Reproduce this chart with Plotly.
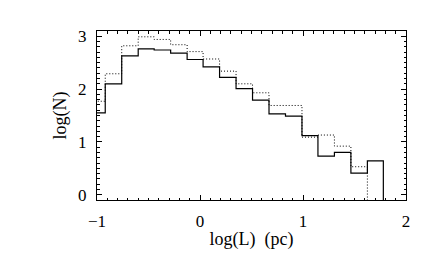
import plotly.graph_objects as go

# Bin edges in log(L) (pc)
log_L_edges = [-1.08, -0.92, -0.76, -0.60, -0.445, -0.285, -0.125, 0.03, 0.19,
               0.35, 0.51, 0.67, 0.83, 0.99, 1.145, 1.305, 1.465, 1.625, 1.78]

# log(N) per bin, solid histogram (18 bins)
logN_solid = [1.55, 2.10, 2.63, 2.76, 2.74, 2.68, 2.56, 2.42, 2.22, 2.01,
              1.79, 1.53, 1.49, 1.12, 0.73, 0.80, 0.41, 0.64]
# log(N) per bin, dotted histogram (17 bins, empty afterwards)
logN_dotted = [1.77, 2.29, 2.82, 2.99, 2.94, 2.84, 2.71, 2.57, 2.34, 2.10,
               1.93, 1.69, 1.69, 1.09, 1.13, 0.92, 0.53]
EMPTY = -1.0  # log of an empty bin: drawn below the axis floor

x_ticks = [-1, 0, 1, 2]
x_tick_labels = ["\u22121", "0", "1", "2"]
y_ticks = [0, 1, 2, 3]
y_tick_labels = ["0", "1", "2", "3"]


def step_xy(edges, vals):
    n = len(vals)
    xs = list(edges[:n + 1])
    ys = list(vals) + [EMPTY]
    return xs, ys


fig = go.Figure()
xs, ys = step_xy(log_L_edges, logN_dotted)
fig.add_trace(go.Scatter(x=xs, y=ys, mode="lines", line_shape="hv",
                         line=dict(color="black", width=1, dash="1px,2px"),
                         showlegend=False, hoverinfo="skip"))
xs, ys = step_xy(log_L_edges, logN_solid)
fig.add_trace(go.Scatter(x=xs, y=ys, mode="lines", line_shape="hv",
                         line=dict(color="black", width=1.2),
                         showlegend=False, hoverinfo="skip"))

font = dict(family="Liberation Serif", size=17, color="black")
title_font = dict(family="Liberation Serif", size=18, color="black")
fig.update_layout(
    width=436, height=262,
    margin=dict(l=89, r=38, t=23, b=70, autoexpand=False),
    paper_bgcolor="white", plot_bgcolor="white",
    font=font,
)
fig.update_xaxes(
    range=[-1, 2], tickvals=x_ticks, ticktext=x_tick_labels,
    showgrid=False, zeroline=False, showline=True, linecolor="black",
    linewidth=1, mirror="allticks", ticks="inside", ticklen=5,
    tickcolor="black", tickwidth=1, ticklabelstandoff=6,
    minor=dict(dtick=0.1, tick0=0, ticks="inside", ticklen=2.5,
               tickcolor="black", tickwidth=1, showgrid=False),
    title=dict(text="log(L)  (pc)", font=title_font, standoff=1),
)
fig.update_yaxes(
    range=[-0.1, 3.1], tickvals=y_ticks, ticktext=y_tick_labels,
    showgrid=False, zeroline=False, showline=True, linecolor="black",
    linewidth=1, mirror="allticks", ticks="inside", ticklen=5,
    tickcolor="black", tickwidth=1, ticklabelstandoff=6,
    minor=dict(dtick=0.1, tick0=0, ticks="inside", ticklen=2.5,
               tickcolor="black", tickwidth=1, showgrid=False),
    title=dict(text="log(N)", font=title_font, standoff=6),
)
fig.write_html("out.html")
